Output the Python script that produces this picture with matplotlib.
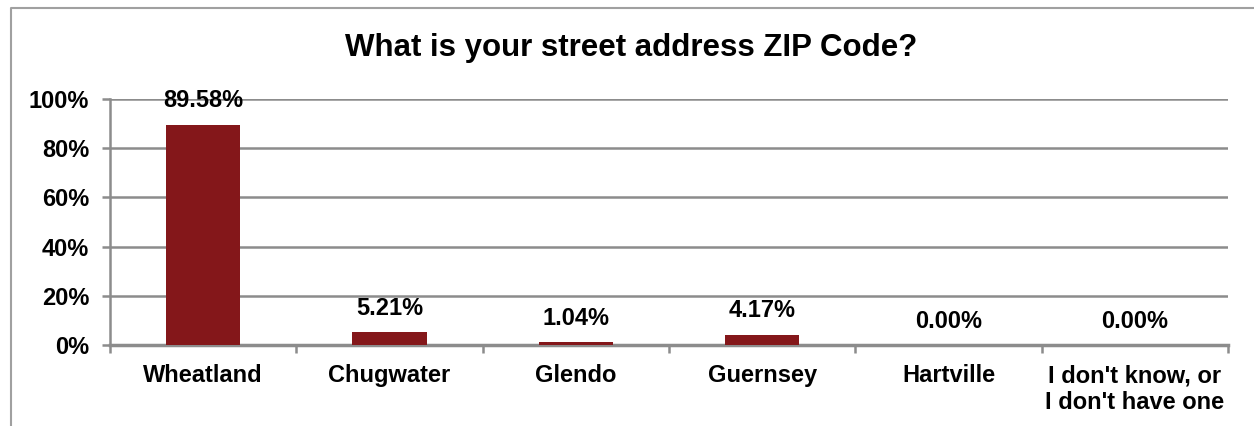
import matplotlib
matplotlib.use("Agg")
import matplotlib.pyplot as plt
from matplotlib.lines import Line2D
import numpy as np

categories = ["Wheatland", "Chugwater", "Glendo", "Guernsey", "Hartville",
              "I don't know, or\nI don't have one"]
values = [89.58, 5.21, 1.04, 4.17, 0.00, 0.00]
yticks = [0, 20, 40, 60, 80, 100]
title = "What is your street address ZIP Code?"

plt.rcParams['font.family'] = ['Liberation Sans', 'DejaVu Sans']
plt.rcParams['font.weight'] = 'bold'

W, H = 1254, 426
fig = plt.figure(figsize=(W / 100, H / 100), dpi=100)
ax = fig.add_axes([110 / W, 1 - 345 / H, (1228 - 110) / W, (345 - 99) / H])

bar_color = "#84171A"
grid_color = "#8C8C8C"
fs = 17
x = np.arange(len(categories))
ax.bar(x, values, width=0.4, color=bar_color, zorder=3)

ax.set_xlim(-0.5, len(categories) - 0.5)
ax.set_ylim(0, 100)
ax.set_yticks(yticks)
ax.set_yticklabels([f"{v}%" for v in yticks], fontsize=fs, fontweight='bold')
ax.yaxis.grid(True, color=grid_color, linewidth=1.8, zorder=0)
ax.tick_params(axis='y', length=6, width=1.8, color=grid_color, pad=9)

ax.set_xticks(x)
ax.set_xticklabels(categories, fontsize=fs, fontweight='bold', linespacing=1.2)
ax.tick_params(axis='x', which='major', length=0, pad=14)
ax.set_xticks(np.arange(-0.5, len(categories)), minor=True)
ax.tick_params(axis='x', which='minor', length=6, width=1.8, color=grid_color)

for s in ['top', 'right']:
    ax.spines[s].set_visible(False)
ax.spines['left'].set_color(grid_color)
ax.spines['left'].set_linewidth(1.8)
ax.spines['bottom'].set_color(grid_color)
ax.spines['bottom'].set_linewidth(2.5)

for xi, v in zip(x, values):
    ax.annotate(f"{v:.2f}%", xy=(xi, v), xytext=(0, 9), textcoords='offset points',
                ha='center', va='bottom', fontsize=fs, fontweight='bold', zorder=4)

fig.text(631 / W, 1 - 48 / H, title, ha='center', va='center',
         fontsize=22.5, fontweight='bold')

# outer chart frame (partially visible)
fig.add_artist(Line2D([11 / W, 11 / W, 1.0], [0, 1 - 8 / H, 1 - 8 / H],
                      transform=fig.transFigure, color="#A0A0A0", linewidth=1.5))

fig.savefig("out.png", dpi=100)
